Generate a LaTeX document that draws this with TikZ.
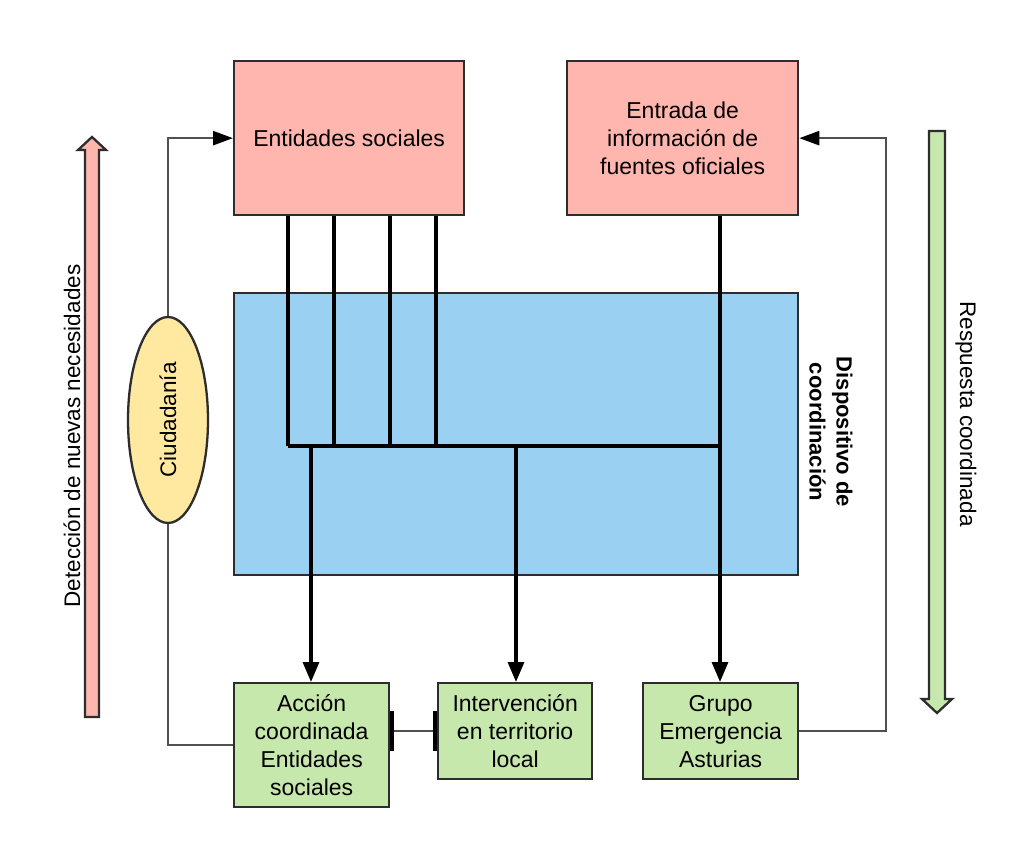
\documentclass[tikz,border=0pt]{standalone}
\usepackage{fontspec}
\setmainfont{Liberation Sans}
\usetikzlibrary{arrows.meta,shapes.geometric,calc}
\definecolor{boxpink}{RGB}{255,182,174}
\definecolor{boxblue}{RGB}{154,208,242}
\definecolor{boxgreen}{RGB}{199,232,172}
\definecolor{ellyellow}{RGB}{255,233,160}
\definecolor{edge}{RGB}{45,45,45}
\definecolor{glink}{RGB}{80,80,80}
\begin{document}
\begin{tikzpicture}[x=1pt,y=-1pt,
  txt/.style={font=\fontsize{23}{28}\selectfont, align=center},
  box/.style={txt, draw=edge, line width=2.3, inner sep=0, anchor=north west},
  bl/.style={draw=black, line width=3.3},
  blarrow/.style={bl, -{Triangle[length=20,width=16]}},
  gl/.style={draw=glink, line width=2.5},
  glarrow/.style={gl, -{Triangle[length=20,width=14,color=black]}},
  fat/.style={draw=edge, line width=2.3, line join=miter}]
\useasboundingbox (0,0) rectangle (1025,845);
\fill[white] (0,0) rectangle (1025,845);

% boxes
\node[box, fill=boxblue, minimum width=564, minimum height=282] (dc) at (233,292) {};
\node[box, fill=boxpink, minimum width=230, minimum height=154] (es) at (233,60) {Entidades sociales};
\node[box, fill=boxpink, minimum width=231, minimum height=154] (en) at (566,60) {Entrada de\\información de\\fuentes oficiales};
\node[box, fill=boxgreen, minimum width=155, minimum height=124] (ac) at (233,682) {Acción\\coordinada\\Entidades\\sociales};
\node[box, fill=boxgreen, minimum width=154, minimum height=96] (iv) at (437,682) {Intervención\\en territorio\\local};
\node[box, fill=boxgreen, minimum width=155, minimum height=96] (gr) at (642,682) {Grupo\\Emergencia\\Asturias};
\node[txt, ellipse, draw=edge, line width=2.3, fill=ellyellow, rotate=90, minimum width=206, minimum height=80, inner sep=0, font=\fontsize{22.5}{28}\selectfont] (ci) at (168,420) {Ciudadanía};

% labels
\node[txt, rotate=90, font=\fontsize{22.5}{28}\selectfont] (det) at (72,436) {Detección de nuevas necesidades};
\node[txt, rotate=-90, font=\fontsize{22.5}{28}\selectfont] (resp) at (966,414) {Respuesta coordinada};
\node[txt, rotate=-90, font=\bfseries\fontsize{22}{27}\selectfont] (disp) at (831,432) {Dispositivo de\\coordinación};

% fat arrows
\draw[fat, fill=boxpink] (85,717) -- (99,717) -- (99,150) -- (106,150) -- (92,137) -- (78,150) -- (85,150) -- cycle;
\draw[fat, fill=boxgreen] (929,131) -- (945,131) -- (945,699) -- (952,699) -- (937,713) -- (922,699) -- (929,699) -- cycle;

% coordinates
\coordinate (bus) at (0,446);
\coordinate (xa) at (288,0);
\coordinate (xb) at (334,0);
\coordinate (xc) at (390,0);
\coordinate (xd) at (436,0);
\coordinate (xe) at (720,0);
\coordinate (xf) at (311,0);
\coordinate (xg) at (516,0);
\coordinate (xr) at (886,0);

% black connectors
\draw[bl] (es.south -| xa) -- (bus -| xa);
\draw[bl] (es.south -| xb) -- (bus -| xb);
\draw[bl] (es.south -| xc) -- (bus -| xc);
\draw[bl] (es.south -| xd) -- (bus -| xd);
\draw[bl] (bus -| xa) -- (bus -| xe);
\draw[blarrow] (en.south -| xe) -- (gr.north -| xe);
\draw[blarrow] (bus -| xf) -- (ac.north -| xf);
\draw[blarrow] (bus -| xg) -- (iv.north -| xg);

% gray connectors
\draw[glarrow] (ci) |- (es.west);
\draw[gl] (ci) |- (ac.west);
\draw[glarrow] (gr.east) -- (gr.east -| xr) |- (en.east);
\draw[gl, {Bar[width=40,line width=4,color=black]}-{Bar[width=40,line width=4,color=black]}] (iv.west -| ac.east) -- (iv.west);
\end{tikzpicture}
\end{document}
